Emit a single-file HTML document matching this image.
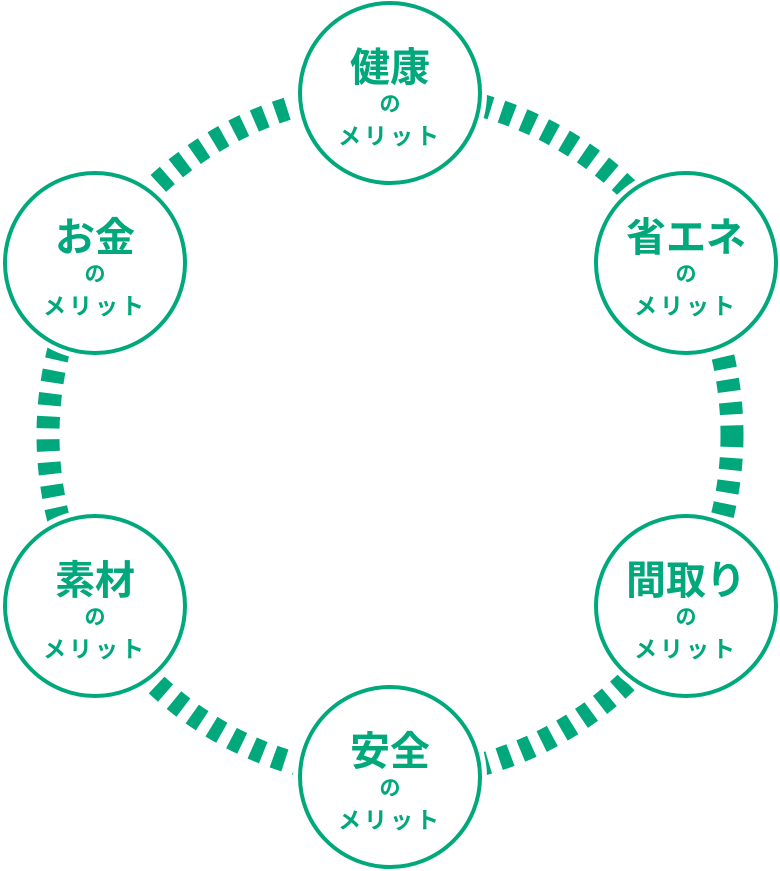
<!DOCTYPE html>
<html><head><meta charset="utf-8"><style>
html,body{margin:0;padding:0;background:#fff;}
svg{display:block}
text{font-family:"Liberation Sans","Noto Sans CJK JP",sans-serif;font-weight:bold;fill:#00a87c;text-anchor:middle}
</style></head><body>
<svg width="780" height="871" viewBox="0 0 780 871">
<circle cx="390" cy="435" r="342" fill="none" stroke="#00a87c" stroke-width="23" stroke-dasharray="12 11"/>
<g fill="#fff">
<circle cx="390" cy="93" r="97"/>
<circle cx="686" cy="263" r="97"/>
<circle cx="686" cy="606" r="97"/>
<circle cx="390" cy="777" r="97"/>
<circle cx="95" cy="606" r="97"/>
<circle cx="95" cy="263" r="97"/>
</g>
<g fill="#fff" stroke="#00a87c" stroke-width="4">
<circle cx="390" cy="93" r="90"/>
<circle cx="686" cy="263" r="90"/>
<circle cx="686" cy="606" r="90"/>
<circle cx="390" cy="777" r="90"/>
<circle cx="95" cy="606" r="90"/>
<circle cx="95" cy="263" r="90"/>
</g>
<g>
<text x="390" y="81" font-size="40">健康</text><text x="390" y="111" font-size="21">の</text><text x="390" y="144" font-size="23" letter-spacing="3">メリット</text>
<text x="686" y="251" font-size="40">省エネ</text><text x="686" y="281" font-size="21">の</text><text x="686" y="314" font-size="23" letter-spacing="3">メリット</text>
<text x="686" y="594" font-size="40">間取り</text><text x="686" y="624" font-size="21">の</text><text x="686" y="657" font-size="23" letter-spacing="3">メリット</text>
<text x="390" y="765" font-size="40">安全</text><text x="390" y="795" font-size="21">の</text><text x="390" y="828" font-size="23" letter-spacing="3">メリット</text>
<text x="95" y="594" font-size="40">素材</text><text x="95" y="624" font-size="21">の</text><text x="95" y="657" font-size="23" letter-spacing="3">メリット</text>
<text x="95" y="251" font-size="40">お金</text><text x="95" y="281" font-size="21">の</text><text x="95" y="314" font-size="23" letter-spacing="3">メリット</text>
</g>
</svg>
</body></html>
